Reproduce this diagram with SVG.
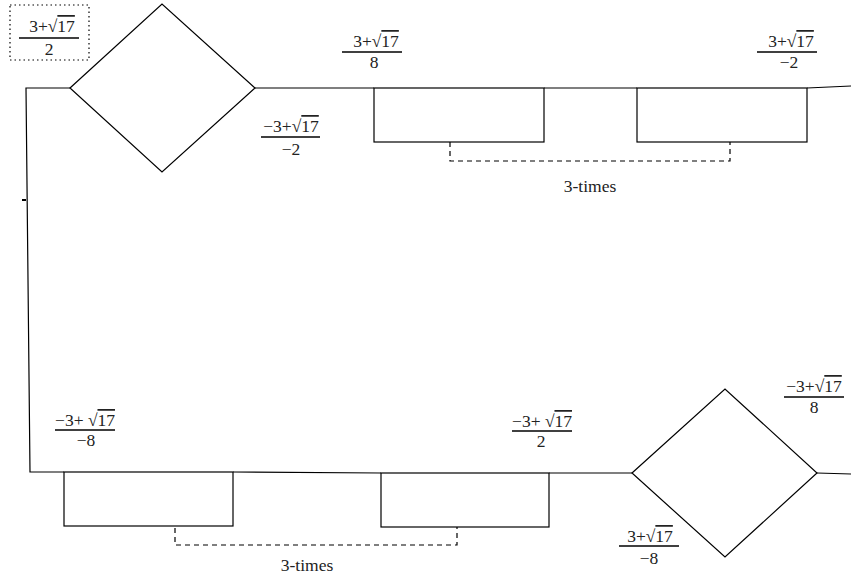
<svg xmlns="http://www.w3.org/2000/svg" width="851" height="576" viewBox="0 0 851 576">
<style>
.ln{fill:none;stroke:#000;stroke-width:1.2}
.dash{fill:none;stroke:#000;stroke-width:1.2;stroke-dasharray:5,4}
.bar{stroke:#000;stroke-width:1.5}
.t{font-family:"Liberation Serif","Times New Roman",serif;font-size:17.5px;fill:#222;text-anchor:middle}
.ov{text-decoration:overline}
</style>
<rect width="851" height="576" fill="#fff"/>
<g id="connectors">
<polyline class="ln" points="70,88 26,88 30,472 64,472"/>
<line class="ln" x1="255" y1="88" x2="374" y2="88"/>
<line class="ln" x1="544" y1="88" x2="637" y2="88"/>
<line class="ln" x1="807" y1="88" x2="851" y2="86"/>
<line class="ln" x1="233" y1="472" x2="381" y2="473"/>
<line class="ln" x1="549" y1="473" x2="632" y2="473"/>
<line class="ln" x1="817" y1="473" x2="851" y2="474"/>
<line class="ln" x1="22" y1="200" x2="26" y2="200" style="stroke-width:2"/>
<polyline class="dash" points="450,142 450,161 730,161 730,142"/>
<polyline class="dash" points="175,528 175,545 457,545 457,527"/>
</g>
<g id="diamond1"><polygon class="ln" points="70,88 162,4 255,88 162,172"/></g>
<g id="diamond2"><polygon class="ln" points="632,473 725,389 817,473 725,557"/></g>
<g id="box1"><rect class="ln" x="374" y="88" width="170" height="54"/></g>
<g id="box2"><rect class="ln" x="637" y="88" width="170" height="54"/></g>
<g id="box3"><rect class="ln" x="64" y="472" width="169" height="54"/></g>
<g id="box4"><rect class="ln" x="381" y="473" width="168" height="54"/></g>
<g id="label-top-left">
<rect x="10" y="5" width="79" height="55" fill="none" stroke="#000" stroke-width="1.2" stroke-dasharray="1.5,3"/>
<text class="t" x="52" y="32">3+√<tspan class="ov">17</tspan></text>
<line class="bar" x1="19" y1="38" x2="79" y2="38"/>
<text class="t" x="49" y="55">2</text>
</g>
<g id="label-1">
<text class="t" x="376" y="47">3+√<tspan class="ov">17</tspan></text>
<line class="bar" x1="342" y1="52" x2="402" y2="52"/>
<text class="t" x="374" y="68">8</text>
</g>
<g id="label-2">
<text class="t" x="791" y="47">3+√<tspan class="ov">17</tspan></text>
<line class="bar" x1="757" y1="52" x2="817" y2="52"/>
<text class="t" x="789" y="68">−2</text>
</g>
<g id="label-3">
<text class="t" x="291" y="132">−3+√<tspan class="ov">17</tspan></text>
<line class="bar" x1="261" y1="137" x2="320" y2="137"/>
<text class="t" x="291" y="155">−2</text>
</g>
<g id="label-4">
<text class="t" x="85" y="426">−3+ √<tspan class="ov">17</tspan></text>
<line class="bar" x1="55" y1="430" x2="115" y2="430"/>
<text class="t" x="86" y="446">−8</text>
</g>
<g id="label-5">
<text class="t" x="542" y="427">−3+ √<tspan class="ov">17</tspan></text>
<line class="bar" x1="512" y1="431" x2="572" y2="431"/>
<text class="t" x="541" y="447">2</text>
</g>
<g id="label-6">
<text class="t" x="814" y="392">−3+√<tspan class="ov">17</tspan></text>
<line class="bar" x1="784" y1="397" x2="844" y2="397"/>
<text class="t" x="814" y="413">8</text>
</g>
<g id="label-7">
<text class="t" x="650" y="542">3+√<tspan class="ov">17</tspan></text>
<line class="bar" x1="619" y1="546" x2="679" y2="546"/>
<text class="t" x="649" y="564">−8</text>
</g>
<g id="label-times">
<text class="t" x="590" y="192">3-times</text>
<text class="t" x="307" y="571">3-times</text>
</g>
</svg>
